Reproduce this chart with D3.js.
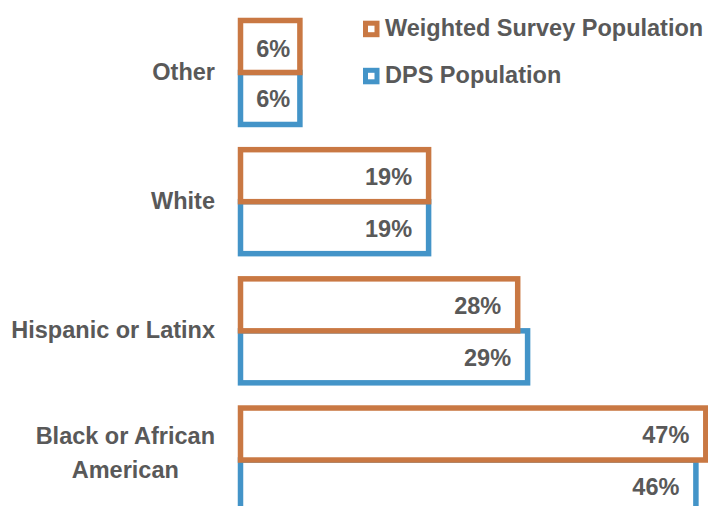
<!DOCTYPE html>
<html>
<head>
<meta charset="utf-8">
<script src="https://cdn.jsdelivr.net/npm/d3@7"></script>
<style>
  html, body { margin: 0; padding: 0; background: #fff; }
  svg { display: block; }
  text { font-family: "Liberation Sans", Arial, Helvetica, sans-serif; font-weight: bold; fill: #595959; }
</style>
</head>
<body>
<svg id="chart" width="708" height="506"></svg>
<script>
const categories = ["Other", "White", "Hispanic or Latinx", "Black or African American"];
const seriesNames = ["Weighted Survey Population", "DPS Population"];
const weightedSurvey = [6, 19, 28, 47];
const dpsPopulation = [6, 19, 29, 46];
const seriesColors = ["#C97843", "#4394C8"];

const svg = d3.select("#chart");
const FONT = 23.5;

const x = d3.scaleLinear().domain([0, 50]).range([240.5, 735.5]);
const y = d3.scaleBand().domain(categories).range([-4.7, 537.2]).padding(0.195);
const ySub = d3.scaleBand().domain(seriesNames).range([0, y.bandwidth()]).padding(0);

const seriesData = [weightedSurvey, dpsPopulation];
const rows = [];
seriesNames.forEach((s, si) => {
  categories.forEach((c, ci) => rows.push({ cat: c, series: s, si, value: seriesData[si][ci] }));
});

// Draw DPS first, then Weighted on top (orange bottom border overlaps blue top)
const drawOrder = [1, 0];
const gBars = svg.append("g");
drawOrder.forEach(si => {
  const d = rows.filter(r => r.si === si);
  gBars.selectAll(null).data(d).enter().append("rect")
    .attr("x", x(0))
    .attr("y", r => y(r.cat) + ySub(r.series))
    .attr("width", r => x(r.value) - x(0))
    .attr("height", ySub.bandwidth())
    .attr("fill", "#fff")
    .attr("stroke", seriesColors[si])
    .attr("stroke-width", 5.5);
});

// value labels
const gLab = svg.append("g");
rows.forEach(r => {
  const t = gLab.append("text")
    .attr("font-size", FONT)
    .text(r.value + "%");
  const tw = t.node().getComputedTextLength();
  const inner = x(r.value) - x(0);
  const cy = y(r.cat) + ySub(r.series) + ySub.bandwidth() / 2 + 9;
  if (inner < tw + 30) {
    t.attr("x", (x(0) + x(r.value)) / 2 + 3).attr("text-anchor", "middle");
  } else {
    t.attr("x", x(r.value) - 16.5).attr("text-anchor", "end");
  }
  t.attr("y", cy + (inner < tw + 30 && r.si === 0 ? 1.5 : 0));
});

// category labels (wrapped, lines centred within a right-aligned block)
const gCat = svg.append("g");
const labelRight = 215, maxW = 212;
categories.forEach(c => {
  const words = c.split(" ");
  const probe = gCat.append("text").attr("font-size", FONT);
  const lines = [];
  let cur = [];
  words.forEach(w => {
    const test = cur.concat([w]).join(" ");
    probe.text(test);
    if (probe.node().getComputedTextLength() > maxW && cur.length) {
      lines.push(cur.join(" "));
      cur = [w];
    } else cur.push(w);
  });
  if (cur.length) lines.push(cur.join(" "));
  const widths = lines.map(l => { probe.text(l); return probe.node().getComputedTextLength(); });
  probe.remove();
  const blockW = d3.max(widths);
  const cx = labelRight - blockW / 2;
  const cyc = y(c) + y.bandwidth() / 2;
  const lh = 34;
  const t = gCat.append("text").attr("font-size", FONT).attr("text-anchor", "middle");
  lines.forEach((l, i) => {
    const yy = lines.length > 1
      ? cyc + 0.7 + (i - (lines.length - 1) / 2) * lh
      : cyc + 7.2;
    t.append("tspan").attr("x", cx).attr("y", yy).text(l);
  });
});

// legend
const gLeg = svg.append("g");
const legTop = [20.7, 67.8];
seriesNames.forEach((s, i) => {
  gLeg.append("rect")
    .attr("x", 365.5).attr("y", legTop[i] + 2.5)
    .attr("width", 11.5).attr("height", 11.5)
    .attr("fill", "#fff").attr("stroke", seriesColors[i]).attr("stroke-width", 5);
  gLeg.append("text")
    .attr("x", 385).attr("y", legTop[i] + 15.5)
    .attr("font-size", FONT)
    .text(s);
});
</script>
</body>
</html>
